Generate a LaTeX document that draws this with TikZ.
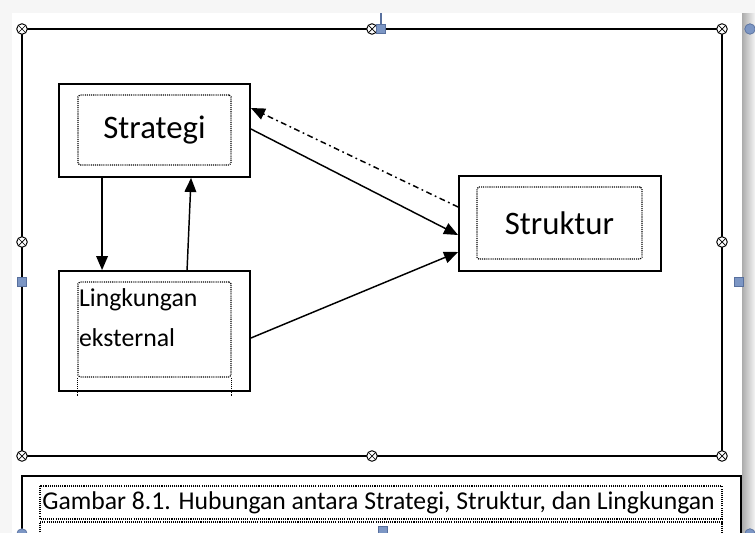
\documentclass[tikz,border=0pt]{standalone}
\usepackage{fontspec}
\setmainfont{Carlito}
\usetikzlibrary{positioning}
\usetikzlibrary{arrows.meta}

\definecolor{handleblue}{RGB}{124,150,196}
\definecolor{handleedge}{RGB}{88,112,158}

\tikzset{
  outerbox/.style={draw, line width=1.6pt, fill=white, inner sep=0pt},
  innerbox/.style={draw, dash pattern=on 0.9pt off 0.9pt, line width=1pt, rounded corners=1.5pt, inner sep=0pt},
  fineline/.style={dash pattern=on 0.9pt off 0.9pt, line width=1pt},
  bigtext/.style={font=\fontsize{28}{30}\selectfont},
  smalltext/.style={font=\fontsize{22}{34}\selectfont, align=left, inner sep=0pt},
  captext/.style={font=\fontsize{21.9}{24}\selectfont, inner sep=0pt},
  arr/.style={line width=1.25pt, -{Triangle[length=12pt,width=10pt]}},
  dashdot/.style={dash pattern=on 5pt off 3pt on 1.5pt off 3pt},
  handle/.style={circle, draw, line width=0.8pt, fill=white, minimum size=9pt, inner sep=0pt,
    path picture={\draw[line width=0.6pt] (path picture bounding box.north west) -- (path picture bounding box.south east)
      (path picture bounding box.north east) -- (path picture bounding box.south west);}},
  bluehandle/.style={draw=handleedge, fill=handleblue, minimum size=8pt, inner sep=0pt, line width=0.6pt}
}

\begin{document}
\begin{tikzpicture}[x=0.03cm,y=-0.03cm,thick]
  % page and shadow
  \fill[gray!7] (0,0) rectangle (755,533);
  \shade[left color=gray!70, right color=gray!8] (741,13) rectangle (755,533);
  \fill[white] (12,13) rectangle (742,533);
  \useasboundingbox (0,0) rectangle (755,533);

  % frame of the drawing canvas
  \draw[line width=1.9pt] (22,29) rectangle (722,456);

  % boxes
  \node[outerbox, minimum width=5.73cm, minimum height=2.79cm] (strategi) at (154.5,130.5) {};
  \node[innerbox, bigtext, minimum width=4.59cm, minimum height=2.1cm] (strategiin) at (154.5,130) {Strategi};

  \node[outerbox, minimum width=6.06cm, minimum height=2.85cm] (struktur) at (560,223.5) {};
  \node[innerbox, bigtext, minimum width=4.95cm, minimum height=2.16cm] (strukturin) at (559.5,223) {Struktur};

  \node[outerbox, minimum width=5.73cm, minimum height=3.6cm] (lingkungan) at (154.5,331) {};
  \node[innerbox, minimum width=4.59cm, minimum height=2.85cm] (lingkunganin) at (154.5,329.5) {};
  \draw[fineline] (lingkunganin.south west) -- ++(0,18);
  \draw[fineline] (lingkunganin.south east) -- ++(0,18);
  \node[smalltext, anchor=north west] (lingkungantext) at ([xshift=1pt,yshift=-6pt]lingkunganin.north west) {Lingkungan\\eksternal};

  % connectors
  \draw[arr] ([xshift=1.32cm]strategi.south west) -- ([xshift=1.32cm]lingkungan.north west);
  \draw[arr] ([xshift=3.87cm]lingkungan.north west) -- ([xshift=3.99cm]strategi.south west);
  \draw[arr] ([yshift=0.045cm]strategi.east) -- ([yshift=-0.345cm]struktur.west);
  \draw[arr, dashdot] ([yshift=0.495cm]struktur.west) -- ([yshift=0.675cm]strategi.east);
  \draw[arr] ([yshift=-0.21cm]lingkungan.east) -- ([yshift=-0.855cm]struktur.west);

  % caption box
  \draw[line width=1.6pt] (22,545) -- (22,476) -- (741,476) -- (741,545);
  \draw[fineline] (40,486) rectangle (722,519);
  \draw[fineline] (40,545) -- (40,522) -- (722,522) -- (722,545);
  \node[captext, anchor=west] (caption) at (42,503) {Gambar 8.1. Hubungan antara Strategi, Struktur, dan Lingkungan};

  % selection handles
  \foreach \hx/\hy in {22/29,372/29,722/29,22/242,722/242,22/456,372/456,722/456}
    \node[handle] at (\hx,\hy) {};
  \draw[handleedge, line width=0.9pt] (381,13) -- (381,25);
  \foreach \hx/\hy in {381/29,22/282,739/282,383/531}
    \node[bluehandle] at (\hx,\hy) {};
  \foreach \hx/\hy in {22/534,750/534,750/29}
    \node[bluehandle, circle, minimum size=9pt] at (\hx,\hy) {};
\end{tikzpicture}
\end{document}
